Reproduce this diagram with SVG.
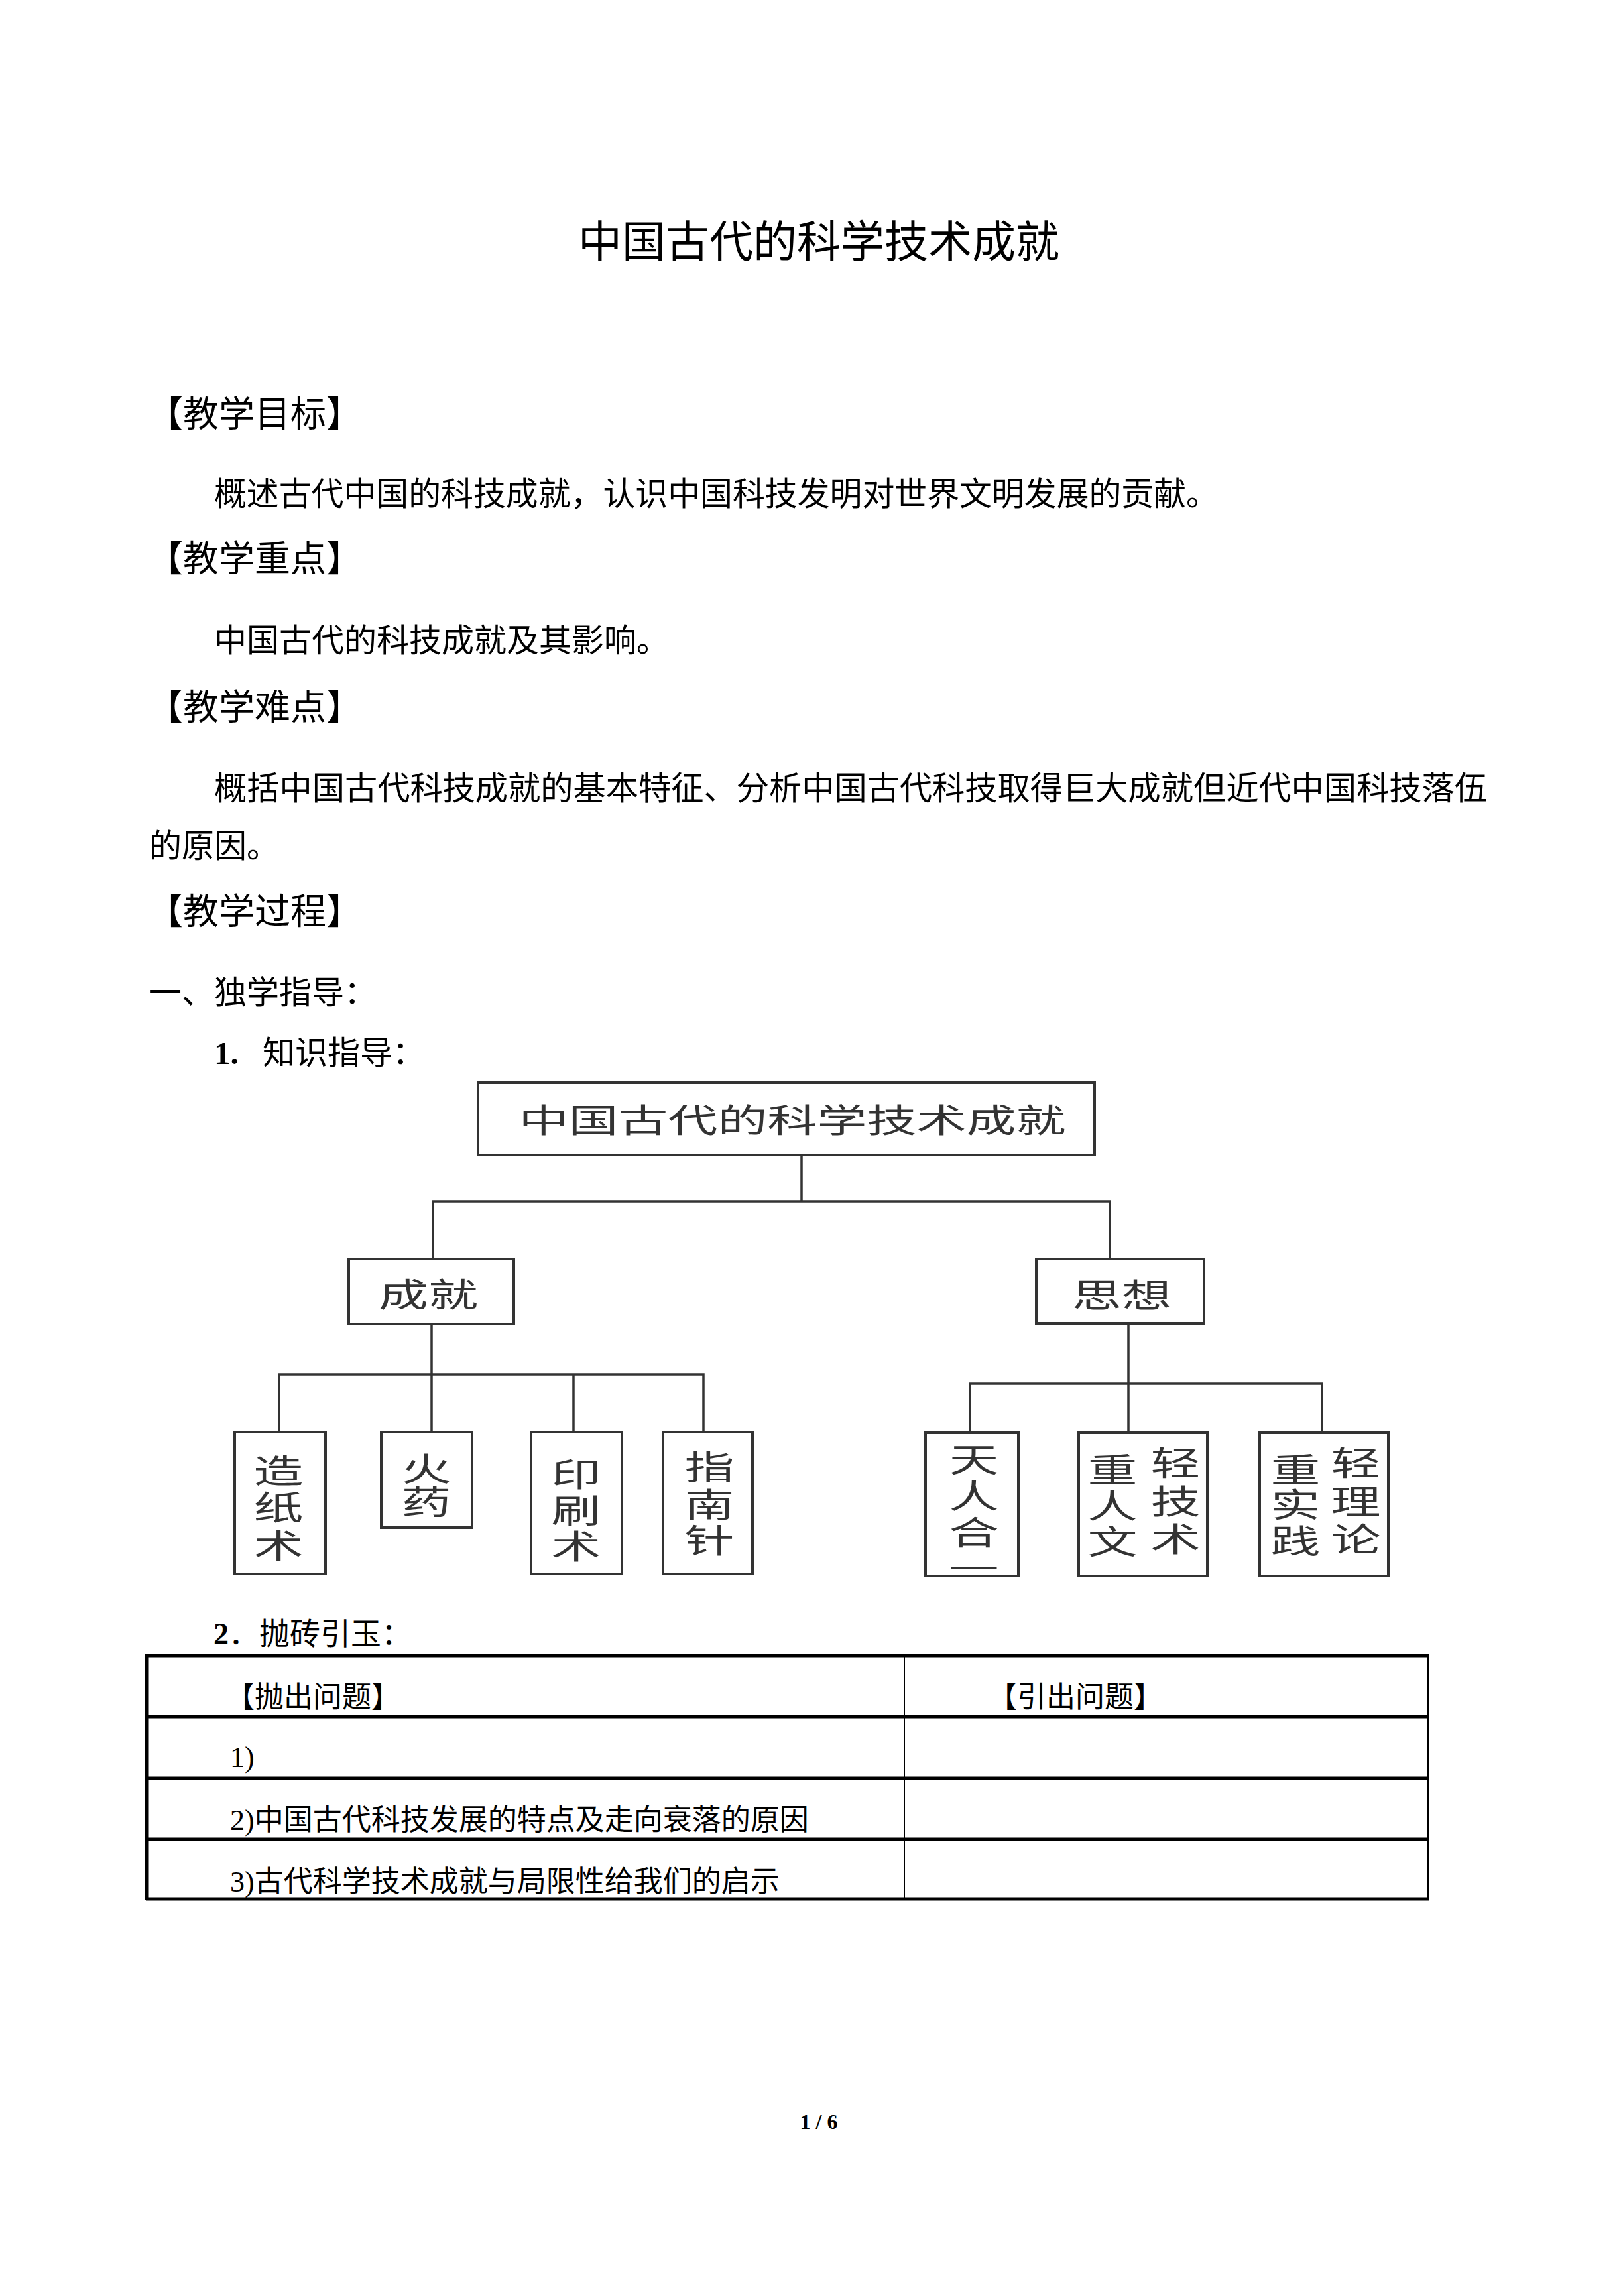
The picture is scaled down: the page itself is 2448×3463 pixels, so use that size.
<svg xmlns="http://www.w3.org/2000/svg" width="2448" height="3463" viewBox="0 0 2448 3463">
<style>
.p{font-family:"Liberation Serif","Noto Sans CJK SC",serif;fill:#000}
.n{font-family:"Noto Sans CJK SC",sans-serif;fill:#333;font-size:50px;text-anchor:middle}
.box{fill:#fff;stroke:#333;stroke-width:4}
.ln{stroke:#333;stroke-width:3.5;fill:none}
.tb{stroke:#000;stroke-width:5;fill:none}
.tv{stroke:#000;stroke-width:2;fill:none}
</style>
<rect width="2448" height="3463" fill="#fff"/>
<text class="p" x="1235" y="388" font-size="66" text-anchor="middle">中国古代的科学技术成就</text>
<text class="p" x="222" y="644" font-size="54">【教学目标】</text>
<text class="p" x="323" y="762" font-size="49" textLength="1515" lengthAdjust="spacingAndGlyphs">概述古代中国的科技成就，认识中国科技发明对世界文明发展的贡献。</text>
<text class="p" x="222" y="862" font-size="54">【教学重点】</text>
<text class="p" x="323" y="983" font-size="49">中国古代的科技成就及其影响。</text>
<text class="p" x="222" y="1086" font-size="54">【教学难点】</text>
<text class="p" x="323" y="1206" font-size="49" textLength="1920" lengthAdjust="spacingAndGlyphs">概括中国古代科技成就的基本特征、分析中国古代科技取得巨大成就但近代中国科技落伍</text>
<text class="p" x="225" y="1293" font-size="49">的原因。</text>
<text class="p" x="222" y="1394" font-size="54">【教学过程】</text>
<text class="p" x="225" y="1514" font-size="49">一、独学指导：</text>
<text class="p" x="323" y="1605" font-size="49"><tspan font-weight="bold">1.</tspan><tspan x="396">知识指导：</tspan></text>

<g id="connectors">
<polyline class="ln" points="1209,1742 1209,1812"/>
<polyline class="ln" points="653,1899 653,1812 1674,1812 1674,1899"/>
<polyline class="ln" points="651,1997 651,2160"/>
<polyline class="ln" points="421,2160 421,2073 1061,2073 1061,2160"/>
<polyline class="ln" points="865,2073 865,2160"/>
<polyline class="ln" points="1702,1996 1702,2161"/>
<polyline class="ln" points="1463,2161 1463,2087 1994,2087 1994,2161"/>
</g>

<g id="root"><rect class="box" x="721" y="1633" width="930" height="109"/>
<text class="n" font-size="58" transform="translate(1195,1708) scale(1.5,1)">中国古代的科学技术成就</text></g>
<g id="chengjiu"><rect class="box" x="526" y="1899" width="249" height="98"/>
<text class="n" font-size="52" transform="translate(646,1971) scale(1.5,1)">成就</text></g>
<g id="sixiang"><rect class="box" x="1563" y="1899" width="253" height="97"/>
<text class="n" font-size="52" transform="translate(1692,1972) scale(1.5,1)">思想</text></g>

<g id="zaozhishu"><rect class="box" x="354" y="2160" width="137" height="214"/>
<text class="n" transform="translate(420,0) scale(1.5,1)"><tspan x="0" y="2237">造</tspan><tspan x="0" y="2292">纸</tspan><tspan x="0" y="2350">术</tspan></text></g>
<g id="huoyao"><rect class="box" x="575" y="2160" width="137" height="144"/>
<text class="n" transform="translate(643,0) scale(1.5,1)"><tspan x="0" y="2234">火</tspan><tspan x="0" y="2284">药</tspan></text></g>
<g id="yinshuashu"><rect class="box" x="801" y="2160" width="137" height="214"/>
<text class="n" transform="translate(869,0) scale(1.5,1)"><tspan x="0" y="2242">印</tspan><tspan x="0" y="2297">刷</tspan><tspan x="0" y="2351">术</tspan></text></g>
<g id="zhinanzhen"><rect class="box" x="1000" y="2160" width="135" height="214"/>
<text class="n" transform="translate(1070,0) scale(1.5,1)"><tspan x="0" y="2231">指</tspan><tspan x="0" y="2288">南</tspan><tspan x="0" y="2342">针</tspan></text></g>
<g id="tianrenheyi"><rect class="box" x="1396" y="2161" width="140" height="216"/>
<text class="n" transform="translate(1469,0) scale(1.5,1)"><tspan x="0" y="2220">天</tspan><tspan x="0" y="2275">人</tspan><tspan x="0" y="2330">合</tspan><tspan x="0" y="2385">一</tspan></text></g>
<g id="zhongrenwen"><rect class="box" x="1627" y="2161" width="194" height="216"/>
<text class="n" transform="translate(1678,0) scale(1.5,1)"><tspan x="0" y="2235">重</tspan><tspan x="0" y="2290">人</tspan><tspan x="0" y="2344">文</tspan></text>
<text class="n" transform="translate(1773,0) scale(1.5,1)"><tspan x="0" y="2225">轻</tspan><tspan x="0" y="2283">技</tspan><tspan x="0" y="2340">术</tspan></text></g>
<g id="zhongshijian"><rect class="box" x="1900" y="2161" width="194" height="216"/>
<text class="n" transform="translate(1954,0) scale(1.5,1)"><tspan x="0" y="2235">重</tspan><tspan x="0" y="2288">实</tspan><tspan x="0" y="2343">践</tspan></text>
<text class="n" transform="translate(2045,0) scale(1.5,1)"><tspan x="0" y="2225">轻</tspan><tspan x="0" y="2283">理</tspan><tspan x="0" y="2340">论</tspan></text></g>

<text class="p" x="322" y="2480" font-size="46"><tspan font-weight="bold">2</tspan><tspan>．抛砖引玉：</tspan></text>
<g id="table">
<line class="tb" x1="220" y1="2497" x2="2155" y2="2497"/>
<line class="tb" x1="220" y1="2589" x2="2155" y2="2589"/>
<line class="tb" x1="220" y1="2682" x2="2155" y2="2682"/>
<line class="tb" x1="220" y1="2774" x2="2155" y2="2774"/>
<line class="tb" x1="220" y1="2864" x2="2155" y2="2864"/>
<line class="tb" x1="221" y1="2495" x2="221" y2="2866"/>
<line class="tv" x1="1364" y1="2497" x2="1364" y2="2864"/>
<line class="tv" x1="2154" y1="2495" x2="2154" y2="2866"/>
<text class="p" x="340" y="2575" font-size="44">【抛出问题】</text>
<text class="p" x="1490" y="2575" font-size="44">【引出问题】</text>
<text class="p" x="347" y="2665" font-size="44">1)</text>
<text class="p" x="347" y="2760" font-size="44">2)中国古代科技发展的特点及走向衰落的原因</text>
<text class="p" x="347" y="2853" font-size="44">3)古代科学技术成就与局限性给我们的启示</text>
</g>
<text class="p" x="1235" y="3211" font-size="32" font-weight="bold" text-anchor="middle">1 / 6</text>
</svg>
